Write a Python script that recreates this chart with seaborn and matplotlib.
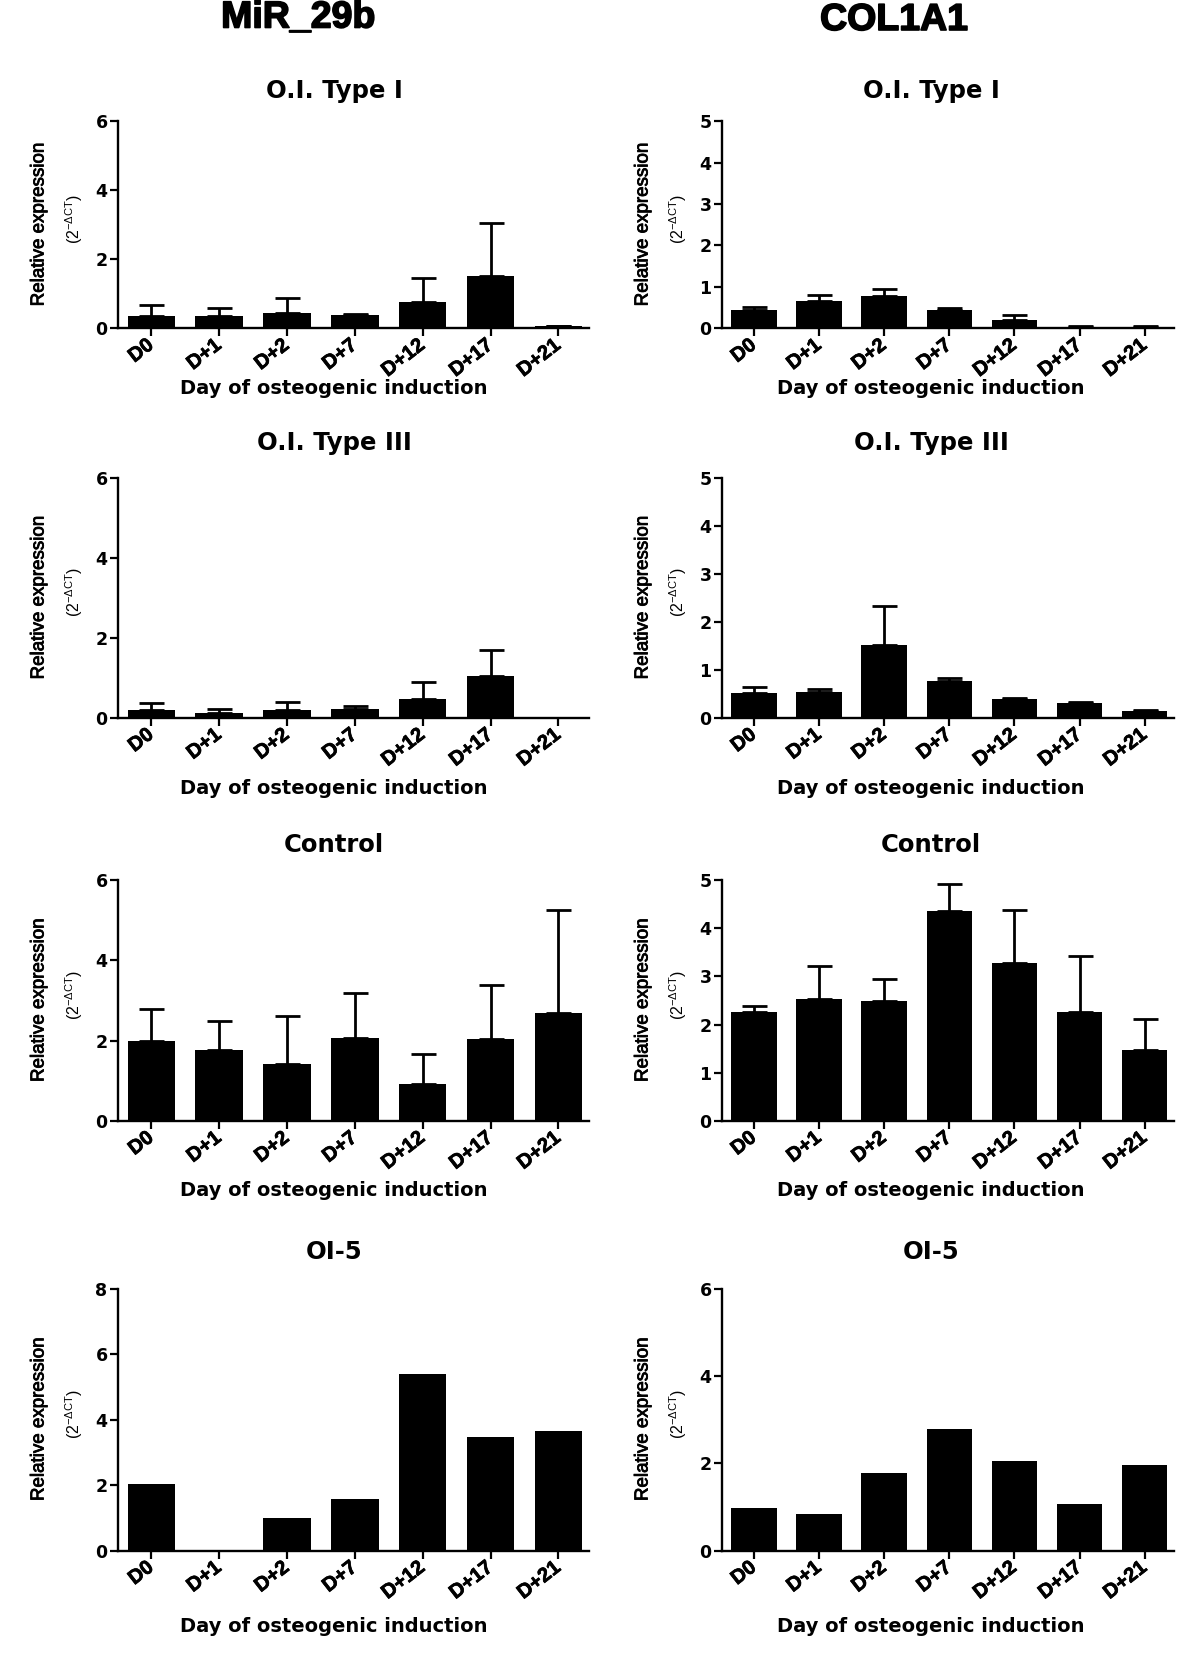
import numpy as np
import pandas as pd
import matplotlib
matplotlib.use("Agg")
import matplotlib.pyplot as plt
import matplotlib.transforms as mtransforms
import matplotlib.patheffects as pe
import seaborn as sns

# ---------------- data ----------------
days = ["D0", "D+1", "D+2", "D+7", "D+12", "D+17", "D+21"]

mir_type1 = [0.36, 0.36, 0.44, 0.38, 0.75, 1.52, 0.05]
mir_type1_err = [0.32, 0.22, 0.43, 0.03, 0.70, 1.52, 0.02]
col_type1 = [0.43, 0.66, 0.79, 0.45, 0.20, 0.04, 0.025]
col_type1_err = [0.08, 0.15, 0.16, 0.04, 0.13, 0.025, 0.03]

mir_type3 = [0.19, 0.12, 0.20, 0.225, 0.46, 1.04, 0.0]
mir_type3_err = [0.185, 0.09, 0.20, 0.065, 0.44, 0.66, 0.0]
col_type3 = [0.51, 0.53, 1.51, 0.76, 0.40, 0.30, 0.14]
col_type3_err = [0.13, 0.06, 0.83, 0.07, 0.01, 0.03, 0.03]

mir_control = [2.00, 1.77, 1.41, 2.07, 0.93, 2.03, 2.69]
mir_control_err = [0.80, 0.72, 1.20, 1.12, 0.74, 1.35, 2.57]
col_control = [2.27, 2.54, 2.50, 4.37, 3.28, 2.27, 1.47]
col_control_err = [0.11, 0.68, 0.45, 0.55, 1.11, 1.16, 0.65]

mir_oi5 = [2.04, 0.0, 0.99, 1.58, 5.39, 3.46, 3.64]
col_oi5 = [0.98, 0.83, 1.77, 2.79, 2.06, 1.07, 1.95]

column_titles = ["MiR_29b", "COL1A1"]
row_titles = ["O.I. Type I", "O.I. Type III", "Control", "OI-5"]
mir_yticks = [[0, 2, 4, 6], [0, 2, 4, 6], [0, 2, 4, 6], [0, 2, 4, 6, 8]]
col_yticks = [[0, 1, 2, 3, 4, 5], [0, 1, 2, 3, 4, 5], [0, 1, 2, 3, 4, 5], [0, 2, 4, 6]]
xlabel_text = "Day of osteogenic induction"
ylabel_text = "Relative expression"
ylabel_sub = r"(2$^{-\Delta\mathrm{CT}}$)"

# ---------------- style ----------------
sns.set_style("ticks")
plt.rcParams["font.family"] = ["DejaVu Sans"]
plt.rcParams["text.color"] = "black"
plt.rcParams["axes.labelcolor"] = "black"
plt.rcParams["xtick.color"] = "black"
plt.rcParams["ytick.color"] = "black"
plt.rcParams["mathtext.fontset"] = "custom"
plt.rcParams["mathtext.rm"] = "Liberation Sans"
plt.rcParams["mathtext.it"] = "Liberation Sans:italic"

W, H = 1200, 1655
fig = plt.figure(figsize=(W / 100, H / 100), dpi=100)

# layout (pixels)
cols_px = [(118, 589), (722, 1174)]
rows_px = [(121.4, 328.2), (478.1, 717.7), (880.2, 1120.8), (1288.6, 1550.5)]
title_y = [91, 443, 845, 1252]
xlabel_y = [389, 789, 1191, 1627]
center_x = [334, 931]
ylab_x = [39, 643]
ysub_x = [74, 678]

def fx(x):
    return x / W

def fy(y):
    return 1 - y / H

series = [
    [(mir_type1, mir_type1_err), (col_type1, col_type1_err)],
    [(mir_type3, mir_type3_err), (col_type3, col_type3_err)],
    [(mir_control, mir_control_err), (col_control, col_control_err)],
    [(mir_oi5, None), (col_oi5, None)],
]
yticks_all = [mir_yticks, col_yticks]

offset = mtransforms.ScaledTranslation(1.5 / 72, 0, fig.dpi_scale_trans)
thick = [pe.withStroke(linewidth=0.6, foreground="black")]
tick_fx = [pe.withStroke(linewidth=0.5, foreground="black")]

for r in range(4):
    top, bot = rows_px[r]
    for c in range(2):
        left, right = cols_px[c]
        ax = fig.add_axes([fx(left), fy(bot), (right - left) / W, (bot - top) / H])
        vals, errs = series[r][c]
        df = pd.DataFrame({"day": days, "value": vals})
        sns.barplot(data=df, x="day", y="value", order=days, color="black",
                    saturation=1, width=0.7, errorbar=None, linewidth=0,
                    ax=ax)
        if errs is not None:
            pos = [i for i, e in enumerate(errs) if e > 0]
            ax.errorbar(pos, [vals[i] for i in pos],
                        yerr=[np.zeros(len(pos)), [errs[i] for i in pos]],
                        fmt="none", ecolor="black", elinewidth=2.0, capsize=9,
                        capthick=2.0, clip_on=False, zorder=3)
        yt = yticks_all[c][r]
        ax.set_xlim(-0.49, 6.45)
        ax.set_ylim(0, yt[-1])
        ax.set_yticks(yt, labels=[str(t) for t in yt], fontsize=12.5,
                      fontweight="bold", family="DejaVu Sans")
        ax.set_xticks(range(len(days)), labels=days, rotation=38, ha="right",
                      va="center", rotation_mode="anchor", fontsize=14.5,
                      fontweight="bold", family="Liberation Sans")
        for lab in ax.get_xticklabels():
            lab.set_transform(lab.get_transform() + offset)
            lab.set_path_effects(tick_fx)
        ax.set_xlabel("")
        ax.set_ylabel("")
        sns.despine(ax=ax)
        for s in ["left", "bottom"]:
            ax.spines[s].set_linewidth(1.7)
            ax.spines[s].set_color("black")
        ax.tick_params(axis="both", direction="out", length=5.5, width=1.6,
                       color="black", labelcolor="black")
        ax.tick_params(axis="y", pad=2)
        ax.tick_params(axis="x", pad=5)
        ax.set_facecolor("white")

        fig.text(fx(center_x[c]), fy(title_y[r]), row_titles[r], ha="center",
                 va="center", fontsize=17.5, fontweight="bold",
                 family="DejaVu Sans")
        fig.text(fx(center_x[c]), fy(xlabel_y[r]), xlabel_text, ha="center",
                 va="center", fontsize=14, fontweight="bold",
                 family="DejaVu Sans")
        ymid = (top + bot) / 2
        fig.text(fx(ylab_x[c]), fy(ymid), ylabel_text, ha="center",
                 va="center", rotation=90, fontsize=13.5,
                 family="Liberation Sans", path_effects=thick)
        fig.text(fx(ysub_x[c]), fy(ymid - 6), ylabel_sub, ha="center",
                 va="center", rotation=90, fontsize=11.5,
                 family="Liberation Sans")

big = [pe.withStroke(linewidth=1.2, foreground="black")]
fig.text(fx(298), fy(17.5), column_titles[0], ha="center", va="center",
         fontsize=27, fontweight="bold", family="Liberation Sans",
         path_effects=big)
fig.text(fx(894), fy(20), column_titles[1], ha="center", va="center",
         fontsize=27, fontweight="bold", family="Liberation Sans",
         path_effects=big)

fig.savefig("out.png", dpi=100, facecolor="white")
